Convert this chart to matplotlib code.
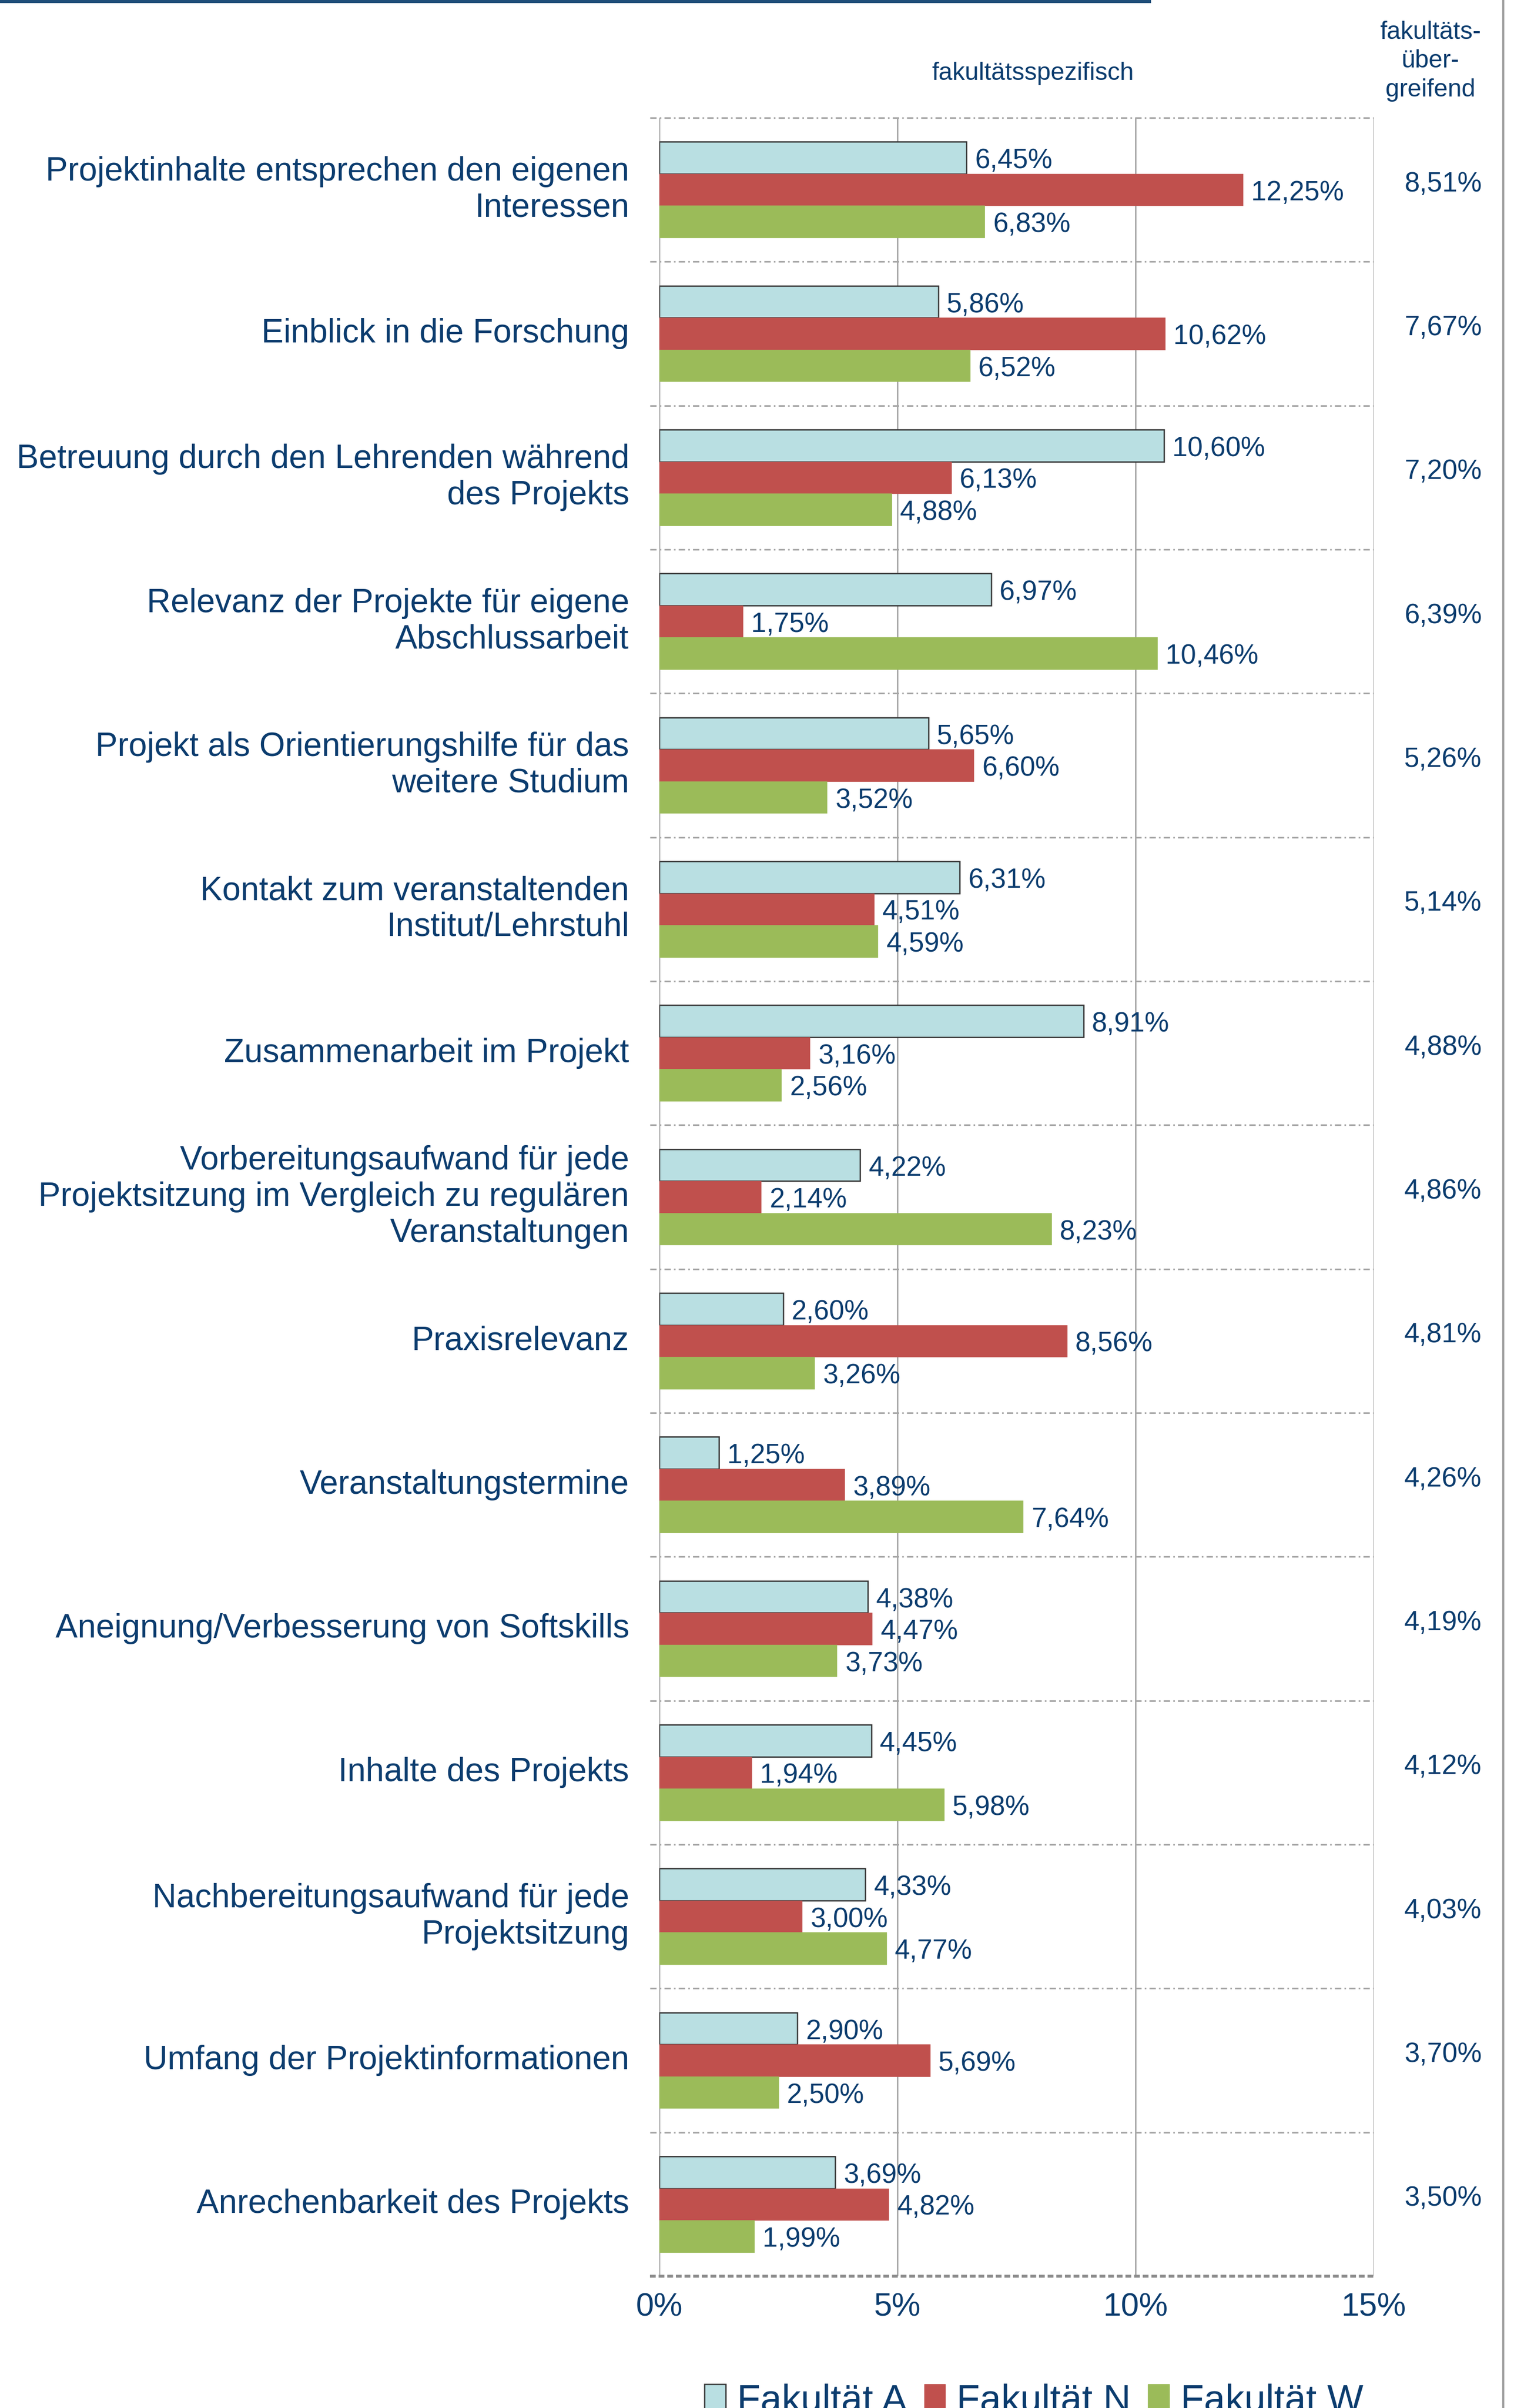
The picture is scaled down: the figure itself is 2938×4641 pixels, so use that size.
import matplotlib.pyplot as plt
from matplotlib.lines import Line2D
from matplotlib.patches import Patch
import numpy as np

plt.rcParams['font.family'] = ['Liberation Sans', 'DejaVu Sans']

# data
categories = [
    'Projektinhalte entsprechen den eigenen\nInteressen',
    'Einblick in die Forschung',
    'Betreuung durch den Lehrenden während\ndes Projekts',
    'Relevanz der Projekte für eigene\nAbschlussarbeit',
    'Projekt als Orientierungshilfe für das\nweitere Studium',
    'Kontakt zum veranstaltenden\nInstitut/Lehrstuhl',
    'Zusammenarbeit im Projekt',
    'Vorbereitungsaufwand für jede\nProjektsitzung im Vergleich zu regulären\nVeranstaltungen',
    'Praxisrelevanz',
    'Veranstaltungstermine',
    'Aneignung/Verbesserung von Softskills',
    'Inhalte des Projekts',
    'Nachbereitungsaufwand für jede\nProjektsitzung',
    'Umfang der Projektinformationen',
    'Anrechenbarkeit des Projekts',
]
fak_A = [6.45, 5.86, 10.60, 6.97, 5.65, 6.31, 8.91, 4.22, 2.60, 1.25, 4.38, 4.45, 4.33, 2.90, 3.69]
fak_N = [12.25, 10.62, 6.13, 1.75, 6.60, 4.51, 3.16, 2.14, 8.56, 3.89, 4.47, 1.94, 3.00, 5.69, 4.82]
fak_W = [6.83, 6.52, 4.88, 10.46, 3.52, 4.59, 2.56, 8.23, 3.26, 7.64, 3.73, 5.98, 4.77, 2.50, 1.99]
uebergreifend = [8.51, 7.67, 7.20, 6.39, 5.26, 5.14, 4.88, 4.86, 4.81, 4.26, 4.19, 4.12, 4.03, 3.70, 3.50]
series_names = ['Fakultät A', 'Fakultät N', 'Fakultät W']
xticks = [0, 5, 10, 15]

txt = '#0B3C6E'
colors = ['#B9DFE2', '#C0504D', '#9BBB59']
grid_c = '#A6A6A6'

def pct(v):
    return ('%.2f%%' % v).replace('.', ',')

W, H = 2938, 4641
x0, x15, ytop, ybot = 1271, 2648, 227, 4387
px_per_pct = (x15 - x0) / 15

fig = plt.figure(figsize=(W / 100, H / 100), dpi=100)
ax = fig.add_axes([x0 / W, 1 - ybot / H, (x15 - x0) / W, (ybot - ytop) / H])

y = np.arange(len(categories))
h = 0.222
series = [fak_A, fak_N, fak_W]
for k, vals in enumerate(series):
    ec = '#333333' if k == 0 else colors[k]
    lw = 1.8 if k == 0 else 0.5
    ax.barh(y + (k - 1) * h, vals, height=h, color=colors[k], edgecolor=ec, linewidth=lw, zorder=3)
    for yi, v in zip(y, vals):
        ax.text(v + 16 / px_per_pct, yi + (k - 1) * h + 0.022, pct(v), va='center', ha='left',
                fontsize=38, color=txt, zorder=4)

ax.set_xlim(0, 15)
ax.set_ylim(len(categories) - 0.5, -0.5)

# vertical grid
for xv in xticks:
    ax.axvline(xv, color=grid_c, lw=2, zorder=1)

# dotted category separators (incl. top), drawn a bit past the left edge
for b in np.arange(-0.5, len(categories) - 0.5, 1.0):
    ax.plot([-0.2, 15], [b, b], color=grid_c, lw=2.2, linestyle=(0, (4, 2, 1, 2)),
            clip_on=False, zorder=2)
ax.plot([-0.2, 15], [len(categories) - 0.5] * 2, color='#8C8C8C', lw=4,
        linestyle=(0, (2, 1)), clip_on=False, zorder=2)

for s in ax.spines.values():
    s.set_visible(False)
ax.set_yticks([])
ax.set_xticks(xticks)
ax.set_xticklabels(['%d%%' % t for t in xticks], fontsize=45, color=txt)
ax.tick_params(axis='x', length=0, pad=22)

# category labels
for yi, lab in zip(y, categories):
    ax.text(-58 / px_per_pct, yi, lab, ha='right', va='center', fontsize=46,
            color=txt, linespacing=1.21)

# right column: fakultätsübergreifend
for yi, v in zip(y, uebergreifend):
    ax.text(15 + (2782 - x15) / px_per_pct, yi - 0.04, pct(v), ha='center', va='center',
            fontsize=38, color=txt, clip_on=False)

# headers
fig.text(1991 / W, 1 - 142 / H, 'fakultätsspezifisch', ha='center', va='center',
         fontsize=34.5, color=txt)
fig.text(2758 / W, 1 - 118 / H, 'fakultäts-\nüber-\ngreifend', ha='center', va='center',
         fontsize=34.5, color=txt, linespacing=1.3)

# frame leftovers: top title rule and right border
fig.add_artist(Line2D([0, 2215 / W], [1 - 2 / H] * 2, color='#1F4E79', lw=5))
fig.add_artist(Line2D([2898 / W] * 2, [0, 1], color='#A0A0A0', lw=3))

# legend (cut at bottom edge as in the reference)
handles = [Patch(facecolor=colors[0], edgecolor='#333333', linewidth=1.8),
           Patch(facecolor=colors[1], edgecolor=colors[1]),
           Patch(facecolor=colors[2], edgecolor=colors[2])]
leg = fig.legend(handles, series_names, loc='center', bbox_to_anchor=(1993 / W, 1 - 4628 / H),
                 ncol=3, frameon=False, fontsize=53, handlelength=0.55, handleheight=0.75,
                 handletextpad=0.3, columnspacing=0.45)
for t in leg.get_texts():
    t.set_color(txt)

fig.savefig('out.png', dpi=100)
